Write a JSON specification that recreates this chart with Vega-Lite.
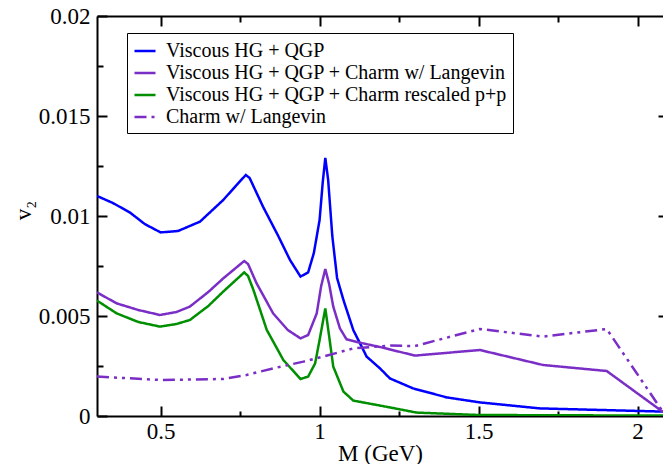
{
  "$schema": "https://vega.github.io/schema/vega-lite/v6.json",
  "width": 566,
  "height": 400,
  "autosize": {"type": "none"},
  "padding": {"left": 97, "top": 16, "right": 0, "bottom": 48},
  "background": "white",
  "config": {
    "view": {"stroke": null},
    "font": "Liberation Serif",
    "axis": {
      "grid": false,
      "domainColor": "black",
      "domainWidth": 2,
      "tickColor": "black",
      "tickWidth": 2,
      "labelFont": "Liberation Serif",
      "labelFontSize": 23,
      "labelColor": "black",
      "titleFont": "Liberation Serif",
      "titleFontSize": 23,
      "titleFontWeight": "normal",
      "titleColor": "black",
      "labelFlush": false,
      "labelOverlap": false
    },
    "legend": {
      "labelFont": "Liberation Serif",
      "labelFontSize": 20,
      "labelColor": "black",
      "padding": 6,
      "strokeColor": "black",
      "fillColor": "white",
      "symbolType": "stroke",
      "symbolSize": 441,
      "symbolStrokeWidth": 2.5,
      "rowPadding": 0,
      "labelOffset": 9,
      "labelLimit": 500
    }
  },
  "data": {
    "values": [
      {"s": "Viscous HG + QGP", "x": 0.3, "v": 0.0110},
      {"s": "Viscous HG + QGP", "x": 0.35, "v": 0.01065},
      {"s": "Viscous HG + QGP", "x": 0.404, "v": 0.01017},
      {"s": "Viscous HG + QGP", "x": 0.45, "v": 0.0096},
      {"s": "Viscous HG + QGP", "x": 0.5, "v": 0.00918},
      {"s": "Viscous HG + QGP", "x": 0.555, "v": 0.00925},
      {"s": "Viscous HG + QGP", "x": 0.624, "v": 0.00972},
      {"s": "Viscous HG + QGP", "x": 0.697, "v": 0.0108},
      {"s": "Viscous HG + QGP", "x": 0.739, "v": 0.01155},
      {"s": "Viscous HG + QGP", "x": 0.768, "v": 0.01205},
      {"s": "Viscous HG + QGP", "x": 0.78, "v": 0.0119},
      {"s": "Viscous HG + QGP", "x": 0.822, "v": 0.01047},
      {"s": "Viscous HG + QGP", "x": 0.87, "v": 0.0090},
      {"s": "Viscous HG + QGP", "x": 0.907, "v": 0.0078},
      {"s": "Viscous HG + QGP", "x": 0.94, "v": 0.00697},
      {"s": "Viscous HG + QGP", "x": 0.964, "v": 0.00718},
      {"s": "Viscous HG + QGP", "x": 0.982, "v": 0.00815},
      {"s": "Viscous HG + QGP", "x": 1.0, "v": 0.0098},
      {"s": "Viscous HG + QGP", "x": 1.01, "v": 0.0117},
      {"s": "Viscous HG + QGP", "x": 1.018, "v": 0.0129},
      {"s": "Viscous HG + QGP", "x": 1.027, "v": 0.0118},
      {"s": "Viscous HG + QGP", "x": 1.04, "v": 0.0090},
      {"s": "Viscous HG + QGP", "x": 1.055, "v": 0.0069},
      {"s": "Viscous HG + QGP", "x": 1.075, "v": 0.0058},
      {"s": "Viscous HG + QGP", "x": 1.106, "v": 0.0043},
      {"s": "Viscous HG + QGP", "x": 1.148, "v": 0.00297},
      {"s": "Viscous HG + QGP", "x": 1.19, "v": 0.00238},
      {"s": "Viscous HG + QGP", "x": 1.221, "v": 0.00188},
      {"s": "Viscous HG + QGP", "x": 1.294, "v": 0.00138},
      {"s": "Viscous HG + QGP", "x": 1.4, "v": 0.00093},
      {"s": "Viscous HG + QGP", "x": 1.504, "v": 0.00068},
      {"s": "Viscous HG + QGP", "x": 1.693, "v": 0.00038},
      {"s": "Viscous HG + QGP", "x": 2.08, "v": 0.00022},

      {"s": "Viscous HG + QGP + Charm w/ Langevin", "x": 0.3, "v": 0.00618},
      {"s": "Viscous HG + QGP + Charm w/ Langevin", "x": 0.362, "v": 0.00563},
      {"s": "Viscous HG + QGP + Charm w/ Langevin", "x": 0.43, "v": 0.0053},
      {"s": "Viscous HG + QGP + Charm w/ Langevin", "x": 0.498, "v": 0.00505},
      {"s": "Viscous HG + QGP + Charm w/ Langevin", "x": 0.55, "v": 0.0052},
      {"s": "Viscous HG + QGP + Charm w/ Langevin", "x": 0.592, "v": 0.00547},
      {"s": "Viscous HG + QGP + Charm w/ Langevin", "x": 0.65, "v": 0.0062},
      {"s": "Viscous HG + QGP + Charm w/ Langevin", "x": 0.697, "v": 0.00688},
      {"s": "Viscous HG + QGP + Charm w/ Langevin", "x": 0.763, "v": 0.00775},
      {"s": "Viscous HG + QGP + Charm w/ Langevin", "x": 0.775, "v": 0.0076},
      {"s": "Viscous HG + QGP + Charm w/ Langevin", "x": 0.802, "v": 0.00663},
      {"s": "Viscous HG + QGP + Charm w/ Langevin", "x": 0.854, "v": 0.00513},
      {"s": "Viscous HG + QGP + Charm w/ Langevin", "x": 0.9, "v": 0.0043},
      {"s": "Viscous HG + QGP + Charm w/ Langevin", "x": 0.94, "v": 0.00388},
      {"s": "Viscous HG + QGP + Charm w/ Langevin", "x": 0.964, "v": 0.00405},
      {"s": "Viscous HG + QGP + Charm w/ Langevin", "x": 0.991, "v": 0.00513},
      {"s": "Viscous HG + QGP + Charm w/ Langevin", "x": 1.005, "v": 0.0065},
      {"s": "Viscous HG + QGP + Charm w/ Langevin", "x": 1.018, "v": 0.00735},
      {"s": "Viscous HG + QGP + Charm w/ Langevin", "x": 1.03, "v": 0.0066},
      {"s": "Viscous HG + QGP + Charm w/ Langevin", "x": 1.043, "v": 0.00547},
      {"s": "Viscous HG + QGP + Charm w/ Langevin", "x": 1.064, "v": 0.00438},
      {"s": "Viscous HG + QGP + Charm w/ Langevin", "x": 1.085, "v": 0.00383},
      {"s": "Viscous HG + QGP + Charm w/ Langevin", "x": 1.137, "v": 0.00363},
      {"s": "Viscous HG + QGP + Charm w/ Langevin", "x": 1.19, "v": 0.00345},
      {"s": "Viscous HG + QGP + Charm w/ Langevin", "x": 1.3, "v": 0.00302},
      {"s": "Viscous HG + QGP + Charm w/ Langevin", "x": 1.504, "v": 0.0033},
      {"s": "Viscous HG + QGP + Charm w/ Langevin", "x": 1.703, "v": 0.00255},
      {"s": "Viscous HG + QGP + Charm w/ Langevin", "x": 1.903, "v": 0.00225},
      {"s": "Viscous HG + QGP + Charm w/ Langevin", "x": 2.08, "v": 0.0002},

      {"s": "Viscous HG + QGP + Charm rescaled p+p", "x": 0.3, "v": 0.00577},
      {"s": "Viscous HG + QGP + Charm rescaled p+p", "x": 0.362, "v": 0.00513},
      {"s": "Viscous HG + QGP + Charm rescaled p+p", "x": 0.43, "v": 0.0047},
      {"s": "Viscous HG + QGP + Charm rescaled p+p", "x": 0.498, "v": 0.00447},
      {"s": "Viscous HG + QGP + Charm rescaled p+p", "x": 0.55, "v": 0.0046},
      {"s": "Viscous HG + QGP + Charm rescaled p+p", "x": 0.592, "v": 0.0048},
      {"s": "Viscous HG + QGP + Charm rescaled p+p", "x": 0.65, "v": 0.0055},
      {"s": "Viscous HG + QGP + Charm rescaled p+p", "x": 0.697, "v": 0.00622},
      {"s": "Viscous HG + QGP + Charm rescaled p+p", "x": 0.763, "v": 0.00718},
      {"s": "Viscous HG + QGP + Charm rescaled p+p", "x": 0.775, "v": 0.0070},
      {"s": "Viscous HG + QGP + Charm rescaled p+p", "x": 0.792, "v": 0.0063},
      {"s": "Viscous HG + QGP + Charm rescaled p+p", "x": 0.834, "v": 0.0043},
      {"s": "Viscous HG + QGP + Charm rescaled p+p", "x": 0.886, "v": 0.0028},
      {"s": "Viscous HG + QGP + Charm rescaled p+p", "x": 0.94, "v": 0.00185},
      {"s": "Viscous HG + QGP + Charm rescaled p+p", "x": 0.964, "v": 0.00197},
      {"s": "Viscous HG + QGP + Charm rescaled p+p", "x": 0.986, "v": 0.00263},
      {"s": "Viscous HG + QGP + Charm rescaled p+p", "x": 1.0, "v": 0.0038},
      {"s": "Viscous HG + QGP + Charm rescaled p+p", "x": 1.018, "v": 0.00538},
      {"s": "Viscous HG + QGP + Charm rescaled p+p", "x": 1.03, "v": 0.0040},
      {"s": "Viscous HG + QGP + Charm rescaled p+p", "x": 1.043, "v": 0.00247},
      {"s": "Viscous HG + QGP + Charm rescaled p+p", "x": 1.075, "v": 0.00122},
      {"s": "Viscous HG + QGP + Charm rescaled p+p", "x": 1.106, "v": 0.00077},
      {"s": "Viscous HG + QGP + Charm rescaled p+p", "x": 1.221, "v": 0.00043},
      {"s": "Viscous HG + QGP + Charm rescaled p+p", "x": 1.305, "v": 0.00017},
      {"s": "Viscous HG + QGP + Charm rescaled p+p", "x": 1.5, "v": 0.00005},
      {"s": "Viscous HG + QGP + Charm rescaled p+p", "x": 2.08, "v": 0.00002},

      {"s": "Charm w/ Langevin", "x": 0.3, "v": 0.00197},
      {"s": "Charm w/ Langevin", "x": 0.5, "v": 0.0018},
      {"s": "Charm w/ Langevin", "x": 0.697, "v": 0.00185},
      {"s": "Charm w/ Langevin", "x": 0.77, "v": 0.00205},
      {"s": "Charm w/ Langevin", "x": 0.854, "v": 0.00238},
      {"s": "Charm w/ Langevin", "x": 0.949, "v": 0.00272},
      {"s": "Charm w/ Langevin", "x": 1.012, "v": 0.00297},
      {"s": "Charm w/ Langevin", "x": 1.106, "v": 0.00338},
      {"s": "Charm w/ Langevin", "x": 1.221, "v": 0.00352},
      {"s": "Charm w/ Langevin", "x": 1.3, "v": 0.0035},
      {"s": "Charm w/ Langevin", "x": 1.504, "v": 0.00435},
      {"s": "Charm w/ Langevin", "x": 1.703, "v": 0.00397},
      {"s": "Charm w/ Langevin", "x": 1.903, "v": 0.00435},
      {"s": "Charm w/ Langevin", "x": 2.08, "v": 0.0002}
    ]
  },
  "layer": [
    {
      "mark": {"type": "line", "strokeWidth": 2.5, "clip": true},
      "encoding": {
        "x": {
          "field": "x", "type": "quantitative",
          "scale": {"domain": [0.3, 2.08], "nice": false, "zero": false},
          "axis": {
            "orient": "bottom",
            "title": "M (GeV)",
            "values": [0.5, 0.75, 1, 1.25, 1.5, 1.75, 2],
            "format": "~g",
            "tickSize": {"condition": {"test": "abs(datum.value*2 - round(datum.value*2)) < 1e-6", "value": -10}, "value": -5},
            "labelExpr": "abs(datum.value*2 - round(datum.value*2)) < 1e-6 ? datum.label : ''",
            "labelPadding": 14,
            "titleY": 44,
            "titleBaseline": "alphabetic"
          }
        },
        "y": {
          "field": "v", "type": "quantitative",
          "scale": {"domain": [0, 0.02], "nice": false},
          "axis": {
            "orient": "left",
            "title": "v₂",
            "values": [0, 0.0025, 0.005, 0.0075, 0.01, 0.0125, 0.015, 0.0175, 0.02],
            "format": "~g",
            "tickSize": {"condition": {"test": "abs(datum.value*200 - round(datum.value*200)) < 1e-6", "value": -10}, "value": -6},
            "labelExpr": "abs(datum.value*200 - round(datum.value*200)) < 1e-6 ? datum.label : ''",
            "labelPadding": 17,
            "titleX": -74,
            "titleY": 194,
            "titleAngle": -90,
            "titleBaseline": "middle",
            "titleAlign": "center"
          }
        },
        "color": {
          "field": "s", "type": "nominal",
          "scale": {
            "domain": ["Viscous HG + QGP", "Viscous HG + QGP + Charm w/ Langevin", "Viscous HG + QGP + Charm rescaled p+p", "Charm w/ Langevin"],
            "range": ["#0000ff", "#7a2ec6", "#008f00", "#7a2ec6"]
          },
          "legend": {
            "title": null,
            "orient": "none",
            "legendX": 30,
            "legendY": 17
          }
        },
        "strokeDash": {
          "field": "s", "type": "nominal",
          "scale": {
            "domain": ["Viscous HG + QGP", "Viscous HG + QGP + Charm w/ Langevin", "Viscous HG + QGP + Charm rescaled p+p", "Charm w/ Langevin"],
            "range": [[1, 0], [1, 0], [1, 0], [12, 5, 3, 5, 3, 5]]
          },
          "legend": {
            "title": null,
            "orient": "none",
            "legendX": 30,
            "legendY": 17
          }
        },
        "detail": {"field": "s"}
      }
    },
    {
      "mark": {"type": "line", "strokeOpacity": 0, "clip": true},
      "encoding": {
        "x": {
          "field": "x", "type": "quantitative",
          "axis": {
            "orient": "top",
            "title": null,
            "labels": false,
            "values": [0.5, 0.75, 1, 1.25, 1.5, 1.75, 2],
            "tickSize": {"condition": {"test": "abs(datum.value*2 - round(datum.value*2)) < 1e-6", "value": -10}, "value": -6}
          }
        },
        "y": {
          "field": "v", "type": "quantitative",
          "axis": {
            "orient": "right",
            "title": null,
            "labels": false,
            "domain": false,
            "values": [0.005, 0.01, 0.015],
            "tickSize": -5
          }
        },
        "detail": {"field": "s"}
      }
    }
  ],
  "resolve": {"axis": {"x": "independent", "y": "independent"}}
}
